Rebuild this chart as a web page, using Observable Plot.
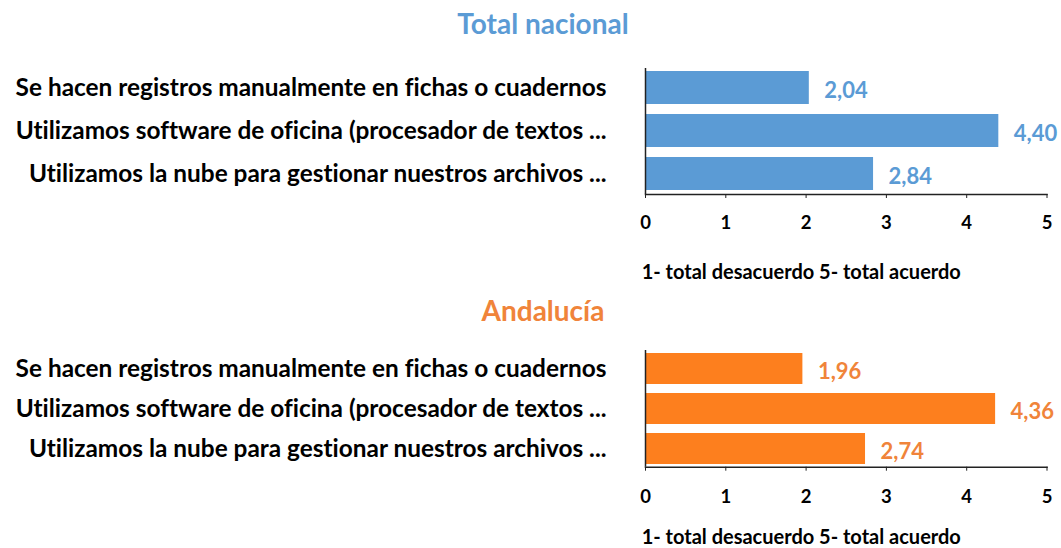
<!DOCTYPE html>
<html>
<head>
<meta charset="utf-8">
<script src="https://cdn.jsdelivr.net/npm/d3@7"></script>
<script src="https://cdn.jsdelivr.net/npm/@observablehq/plot@0.6"></script>
<style>
  html, body { margin: 0; padding: 0; background: #fff; }
  #root { position: relative; width: 1061px; height: 548px; overflow: hidden; font-family: Lato, "Open Sans", sans-serif; }
  .title { position: absolute; left: 0; width: 1086px; text-align: center; font-weight: bold; font-size: 28px; line-height: 1; }
  .panel { position: absolute; left: 0; }
  svg text { font-variant-ligatures: none; }
</style>
</head>
<body>
<div id="root"></div>
<script>
const categories = [
  "Se hacen registros manualmente en fichas o cuadernos",
  "Utilizamos software de oficina (procesador de textos ...",
  "Utilizamos la nube para gestionar nuestros archivos ..."
];
const nacional = [2.04, 4.40, 2.84];
const andalucia = [1.96, 4.36, 2.74];
const xTicks = [0, 1, 2, 3, 4, 5];
const panelTitles = ["Total nacional", "Andalucía"];
const axisLabel = "1- total desacuerdo 5- total acuerdo";

const fmt = v => v.toFixed(2).replace(".", ",");

function panel(values, barColor, textColor, cfg) {
  const data = categories.map((c, i) => ({cat: c, v: values[i]}));
  return Plot.plot({
    width: 1061,
    height: cfg.height,
    marginLeft: 645,
    marginRight: 14.5,
    marginTop: cfg.marginTop,
    marginBottom: cfg.marginBottom,
    style: {fontFamily: "Lato, 'Open Sans', sans-serif", fontWeight: "bold", color: "#000", background: "transparent", overflow: "visible"},
    x: {domain: [0, 5], ticks: xTicks},
    y: {domain: categories, paddingInner: cfg.paddingInner, paddingOuter: cfg.paddingOuter},
    marks: [
      Plot.barX(data, {x: "v", y: "cat", fill: barColor}),
      Plot.ruleX([0], {stroke: "#222", strokeWidth: 1.5}),
      Plot.frame({anchor: "bottom", stroke: "#222", strokeWidth: 1.5}),
      Plot.axisX({ticks: xTicks, tickSize: 4, tickPadding: cfg.tickPadding, fontSize: 18.5, fontWeight: "bold", label: null, tickFormat: d => String(d), stroke: "#222"}),
      Plot.axisY({tickSize: 0, tickPadding: 39, fontSize: 24.4, fontWeight: "bold", label: null}),
      Plot.text(data, {x: "v", y: "cat", text: d => fmt(d.v), textAnchor: "start", dx: 15, dy: 3, fill: textColor, fontSize: 22, fontWeight: "bold"}),
      Plot.text([axisLabel], {frameAnchor: "bottom", lineAnchor: "middle", text: d => d, dx: -45, dy: cfg.labelDy, fontSize: 20, fontWeight: "bold", fill: "#000"})
    ]
  });
}

const root = document.getElementById("root");

function addTitle(text, color, top) {
  const t = document.createElement("div");
  t.className = "title";
  t.textContent = text;
  t.style.color = color;
  t.style.top = top + "px";
  root.appendChild(t);
}

addTitle(panelTitles[0], "#5B9BD5", 9);
const p1 = panel(nacional, "#5B9BD5", "#5B9BD5", {height: 250, marginTop: 28, marginBottom: 96, paddingInner: 0.23, paddingOuter: 0.05, tickPadding: 17, labelDy: 78});
p1.classList.add("panel");
p1.style.top = "40px";
root.appendChild(p1);

addTitle(panelTitles[1], "#F0843A", 296);
const p2 = panel(andalucia, "#FD7F1E", "#F0843A", {height: 228, marginTop: 30, marginBottom: 81.3, paddingInner: 0.22, paddingOuter: 0.04, tickPadding: 18.5, labelDy: 70});
p2.classList.add("panel");
p2.style.top = "320px";
root.appendChild(p2);
</script>
</body>
</html>
